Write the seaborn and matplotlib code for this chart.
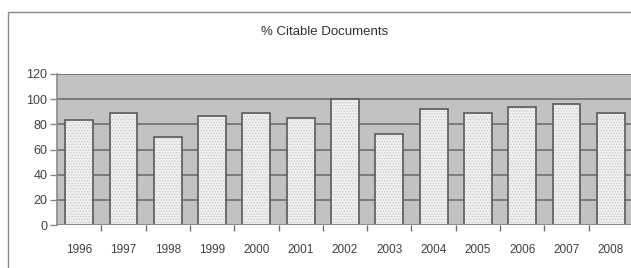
import matplotlib
matplotlib.use("Agg")
import matplotlib.pyplot as plt
import matplotlib.patches as mpatches
import seaborn as sns
import pandas as pd

years = ["1996", "1997", "1998", "1999", "2000", "2001", "2002",
         "2003", "2004", "2005", "2006", "2007", "2008"]
citable_pct = [83.5, 89, 70, 87, 89, 85, 100, 72, 92.5, 89, 94, 96, 89]
y_ticks = [0, 20, 40, 60, 80, 100, 120]

df = pd.DataFrame({"year": years, "pct": citable_pct})

sns.set_style("white")
plt.rcParams["font.family"] = ["Liberation Sans", "DejaVu Sans"]
plt.rcParams["hatch.linewidth"] = 0.6

fig = plt.figure(figsize=(6.31, 2.68), dpi=100)

# chart frame (runs off the right and bottom edges)
frame = mpatches.Rectangle((8 / 631, -0.1), 1.1, 1.1 - 12 / 268,
                           transform=fig.transFigure, fill=False,
                           edgecolor="#8a8a8a", linewidth=1.0)
fig.patches.append(frame)

ax = fig.add_axes([57 / 631, 43 / 268, 576 / 631, 151 / 268])
ax.set_facecolor("#c2c2c2")

# dotted fill layer
sns.barplot(data=df, x="year", y="pct", ax=ax, width=0.63, color="#f0f0f0",
            edgecolor="#c8c8c8", linewidth=0, hatch="......", saturation=1,
            zorder=3)
# outline layer
sns.barplot(data=df, x="year", y="pct", ax=ax, width=0.63, fill=False,
            edgecolor="#5a5a5a", linewidth=1.2, zorder=4)

ax.set_ylim(0, 120)
ax.set_xlim(-0.5, len(years) - 0.5)
ax.set_yticks(y_ticks)
for v in y_ticks[1:]:
    ax.axhline(v, color="#6e6e6e", linewidth=1.2, zorder=1)
ax.axhline(0, color="#8a8a8a", linewidth=1.5, zorder=5)

ax.set_xlabel("")
ax.set_ylabel("")
fig.text(325 / 631, 1 - 32 / 268, "% Citable Documents", ha="center",
         va="center", fontsize=9.5, color="#333333")

for s in ["top", "right", "bottom"]:
    ax.spines[s].set_visible(False)
ax.spines["left"].set_color("#8a8a8a")
ax.spines["left"].set_linewidth(1.2)

ax.tick_params(axis="y", left=True, length=5, width=1, color="#8a8a8a",
               labelsize=9, labelcolor="#404040", pad=2)
ax.tick_params(axis="x", which="major", bottom=False, labelsize=8.5,
               labelcolor="#404040", pad=10)
ax.set_xticks([i + 0.5 for i in range(len(years))], minor=True)
ax.tick_params(axis="x", which="minor", bottom=True, length=4, width=1,
               color="#6e6e6e")

fig.savefig("out.png", dpi=100)
